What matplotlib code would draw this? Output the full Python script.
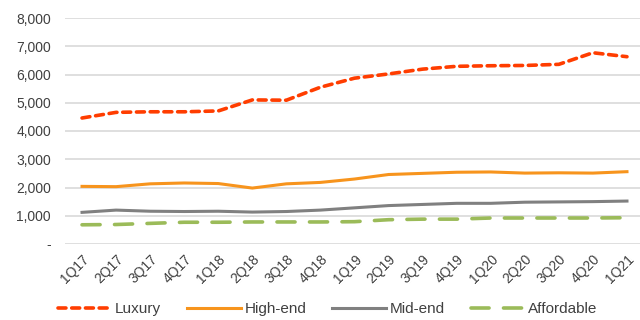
import numpy as np
import matplotlib.pyplot as plt
from matplotlib.ticker import FuncFormatter

plt.rcParams['font.family'] = ['Liberation Sans', 'DejaVu Sans']

quarters = ["1Q17", "2Q17", "3Q17", "4Q17", "1Q18", "2Q18", "3Q18", "4Q18",
            "1Q19", "2Q19", "3Q19", "4Q19", "1Q20", "2Q20", "3Q20", "4Q20", "1Q21"]

luxury = [4460, 4660, 4680, 4680, 4710, 5100, 5090, 5550,
          5870, 6020, 6190, 6290, 6310, 6320, 6360, 6770, 6630]
high_end = [2040, 2030, 2130, 2160, 2140, 1980, 2130, 2180,
            2300, 2460, 2500, 2540, 2550, 2510, 2520, 2510, 2560]
mid_end = [1120, 1200, 1160, 1150, 1160, 1130, 1150, 1200,
           1280, 1360, 1400, 1440, 1440, 1480, 1490, 1500, 1520]
affordable = [680, 690, 730, 770, 770, 780, 780, 780,
              790, 860, 880, 880, 920, 920, 920, 920, 930]

fig = plt.figure(figsize=(6.4, 3.2), dpi=100)
ax = fig.add_axes([65 / 640, 1 - 244 / 320, 579 / 640, 226 / 320])

x = np.arange(len(quarters))
ax.plot(x, luxury, color="#FF3D00", lw=2.6, dashes=(2.2, 1.6),
        dash_capstyle="round", label="Luxury", zorder=4)
ax.plot(x, high_end, color="#F7941D", lw=2.2, label="High-end", zorder=3)
ax.plot(x, mid_end, color="#808080", lw=2.2, label="Mid-end", zorder=3)
ax.plot(x, affordable, color="#9BBB59", lw=2.6, dashes=(5, 4),
        dash_capstyle="round", label="Affordable", zorder=3)

ax.set_xlim(-0.5, len(quarters) - 0.5)
ax.set_ylim(0, 8000)
ax.set_yticks(range(0, 8001, 1000))
ax.yaxis.set_major_formatter(FuncFormatter(lambda v, p: "-" if v == 0 else f"{int(v):,}"))
ax.set_xticks(x)
ax.set_xticklabels(quarters, rotation=45, ha="right", rotation_mode="anchor")

ax.grid(axis="y", color="#D9D9D9", lw=1.2)
ax.set_axisbelow(True)
for s in ax.spines.values():
    s.set_visible(False)
ax.tick_params(length=0, labelsize=10, colors="#404040", pad=6)
ax.tick_params(axis="y", pad=10)

leg = fig.legend(loc="center", bbox_to_anchor=(0.512, 0.034), ncol=4, frameon=False,
                 fontsize=11, handlelength=3.5, columnspacing=1.7, handletextpad=0.25)
for t in leg.get_texts():
    t.set_color("#404040")

fig.savefig("out.png", dpi=100)
